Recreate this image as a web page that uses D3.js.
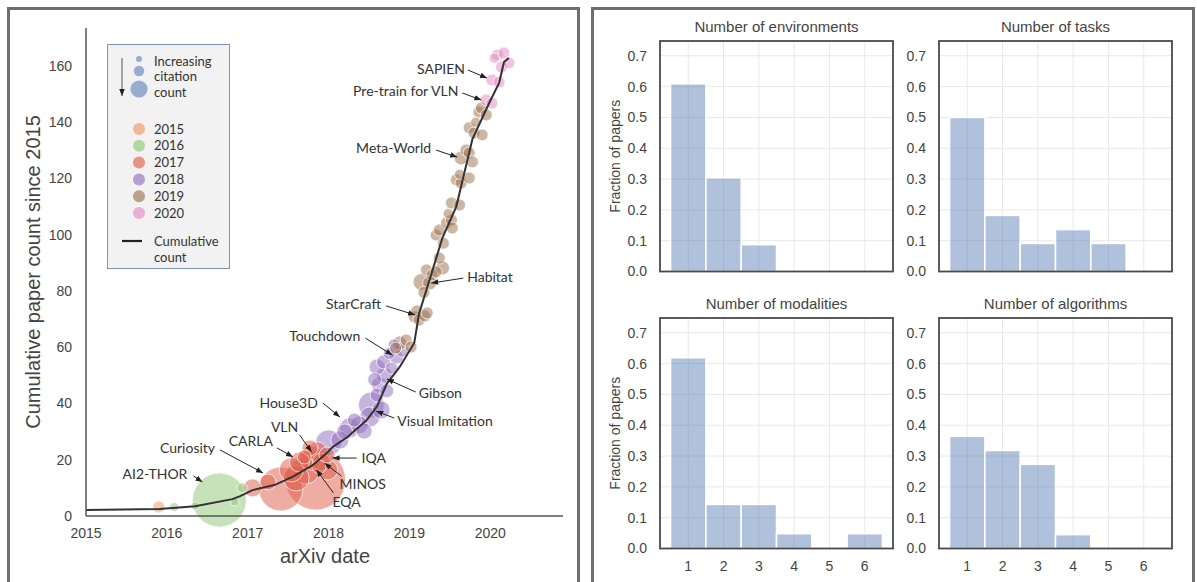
<!DOCTYPE html>
<html>
<head>
<meta charset="utf-8">
<script src="https://cdn.jsdelivr.net/npm/d3@7"></script>
<style>
    body { margin: 0; background: #fff; }
    svg { display: block; }
</style>
</head>
<body>
<script>
// cumulative count line, [date, count]
var cumulative = [
    [2015.0, 2.1], [2015.91, 2.5], [2016.35, 3.5], [2016.81, 6], [2016.9, 7],
    [2017.06, 9.2], [2017.33, 11], [2017.56, 14], [2017.8, 18], [2017.98, 22.4],
    [2018.05, 24.5], [2018.23, 28], [2018.47, 34], [2018.6, 39], [2018.72, 47],
    [2018.88, 53], [2019.06, 61.5], [2019.12, 72], [2019.25, 84], [2019.41, 99],
    [2019.58, 110], [2019.68, 122], [2019.78, 134], [2019.99, 147], [2020.11, 154],
    [2020.17, 161.4], [2020.23, 162.8]
];

// papers per year: [date, count, citations]
var papers2015 = [[2015.90, 3.2, 31]];
var papers2016 = [
    [2016.09, 3.2, 18], [2016.35, 3.6, 14], [2016.65, 5.7, 630], [2016.84, 5.0, 14], [2016.93, 10.0, 22]
];
var papers2017 = [
    [2017.06, 10.0, 70], [2017.25, 12.1, 55], [2017.41, 9.6, 420], [2017.54, 16.4, 125],
    [2017.60, 13.5, 146], [2017.64, 19.2, 87], [2017.72, 16.4, 170], [2017.77, 24.2, 55],
    [2017.79, 20.6, 125], [2017.84, 12.8, 780], [2017.86, 22.8, 87], [2017.91, 19.2, 70],
    [2017.98, 21.7, 55], [2017.99, 16.4, 87], [2017.70, 21.0, 42], [2017.88, 17.5, 42]
];
var papers2018 = [
    [2018.00, 26.0, 146], [2018.14, 27.0, 70], [2018.20, 29.9, 55], [2018.26, 31.3, 87],
    [2018.32, 34.1, 42], [2018.38, 32.4, 70], [2018.44, 30.2, 55], [2018.51, 35.2, 87],
    [2018.53, 39.5, 146], [2018.60, 43.0, 42], [2018.63, 46.6, 55], [2018.65, 37.7, 70],
    [2018.69, 50.1, 55], [2018.60, 53.0, 55], [2018.68, 54.8, 42], [2018.72, 44.5, 42],
    [2018.78, 52.6, 31], [2018.84, 56.5, 42], [2018.91, 59.0, 42], [2018.81, 60.8, 31],
    [2018.57, 48.5, 42], [2018.75, 57.8, 31]
];
var papers2019 = [
    [2018.83, 59.7, 31], [2018.88, 61.5, 42], [2018.96, 62.6, 31], [2019.02, 60.1, 31],
    [2019.06, 70.8, 31], [2019.09, 72.9, 31], [2019.12, 69.7, 31], [2019.19, 71.1, 31], [2019.22, 72.2, 31],
    [2019.15, 83.2, 62], [2019.21, 87.5, 31], [2019.25, 82.8, 42], [2019.28, 85.7, 31],
    [2019.33, 86.8, 31], [2019.37, 91.7, 31], [2019.41, 88.2, 42], [2019.18, 79.5, 31],
    [2019.33, 99.9, 31], [2019.37, 101.7, 31], [2019.46, 104.2, 31], [2019.52, 105.2, 31], [2019.53, 102.4, 31],
    [2019.42, 97.0, 31], [2019.48, 107.5, 22],
    [2019.52, 111.3, 31], [2019.62, 110.6, 31],
    [2019.58, 119.5, 31], [2019.64, 118.4, 31], [2019.74, 120.2, 31], [2019.62, 121.5, 22],
    [2019.64, 127.3, 42], [2019.70, 130.1, 31], [2019.74, 129.1, 31], [2019.78, 125.9, 31],
    [2019.74, 138.0, 31], [2019.80, 136.2, 31], [2019.90, 135.5, 31], [2019.82, 140.0, 22],
    [2019.86, 143.6, 31], [2019.89, 145.1, 31], [2019.95, 142.6, 31]
];
var papers2020 = [
    [2019.95, 147.9, 31], [2020.02, 146.8, 31], [2020.02, 155.0, 31], [2020.11, 154.3, 31],
    [2020.05, 162.8, 22], [2020.09, 163.9, 31], [2020.14, 159.6, 31], [2020.17, 164.6, 31], [2020.23, 161.1, 31]
];

var years = [2015, 2016, 2017, 2018, 2019, 2020];
var yearColors = ['#ec9a62', '#8fc777', '#e0604c', '#9370c0', '#9e7350', '#e48cc4'];
var yearTicks = [2015, 2016, 2017, 2018, 2019, 2020];
var countTicks = [0, 20, 40, 60, 80, 100, 120, 140, 160];
var legendCitations = [8, 24, 64];

// annotations: [label, date, count, text dx, text dy, anchor, arrow sx, arrow sy]
var annotations = [
    ['SAPIEN', 2019.96, 155.7, -22, -9, 'end', 3, 1],
    ['Pre-train for VLN', 2019.89, 147.9, -23, -9, 'end', 4, 2],
    ['Meta-World', 2019.59, 127.6, -26, -9, 'end', 5, 2],
    ['Habitat', 2019.27, 82.8, 36, -6, 'start', -4, 1],
    ['StarCraft', 2019.07, 71.5, -34, -11, 'end', 5, 2],
    ['Touchdown', 2018.79, 57.2, -32, -19, 'end', 5, 2],
    ['Gibson', 2018.72, 48.7, 32, 14, 'start', -3, -1],
    ['Visual Imitation', 2018.59, 37.3, 21, 10, 'start', -3, -3],
    ['House3D', 2018.14, 35.2, -22, -14, 'end', 5, 0],
    ['VLN', 2017.79, 22.8, -27, -25, 'middle', 15, 8],
    ['CARLA', 2017.56, 21.0, -20, -16, 'end', 4, 7],
    ['Curiosity', 2017.19, 15.3, -48, -25, 'end', 5, 2],
    ['AI2-THOR', 2016.44, 12.1, -15, -8, 'end', 6, 2],
    ['IQA', 2018.05, 20.6, 29, 0, 'start', -5, 0],
    ['MINOS', 2017.95, 18.8, 15, 21, 'start', 2, -8],
    ['EQA', 2017.85, 16.4, 16, 32, 'start', 1, -9]
];

// histograms
var counts = [1, 2, 3, 4, 5, 6];
var fracEnvironments = [0.609, 0.304, 0.087, 0, 0, 0];
var fracTasks = [0.5, 0.182, 0.091, 0.136, 0.091, 0];
var fracModalities = [0.619, 0.143, 0.143, 0.048, 0, 0.048];
var fracAlgorithms = [0.364, 0.318, 0.273, 0.045, 0, 0];
var fracTicks = [0, 0.1, 0.2, 0.3, 0.4, 0.5, 0.6, 0.7];

(function () {
    var width = 1197,
        height = 582,
        tickFont = '"Liberation Sans", Arial, sans-serif',
        noteFont = 'Lato, "Noto Sans", sans-serif',
        svg, x, y, size, g, defs;

    svg = d3.select('body').append('svg')
        .attr('width', width)
        .attr('height', height);

    // outer panel frames
    svg.append('rect').attr('x', 8.5).attr('y', 8.5).attr('width', 570).attr('height', 600)
        .attr('fill', 'none').attr('stroke', '#6e6e6e').attr('stroke-width', 3);
    svg.append('rect').attr('x', 592.5).attr('y', 8.5).attr('width', 601).attr('height', 600)
        .attr('fill', 'none').attr('stroke', '#6e6e6e').attr('stroke-width', 3);

    defs = svg.append('defs');
    defs.append('marker')
        .attr('id', 'arrow')
        .attr('viewBox', '0 0 10 10')
        .attr('refX', 10).attr('refY', 5)
        .attr('markerWidth', 7).attr('markerHeight', 7)
        .attr('markerUnits', 'userSpaceOnUse')
        .attr('orient', 'auto')
        .append('path').attr('d', 'M0,1L10,5L0,9Z').attr('fill', '#222');

    // ---- left: cumulative papers ----
    x = d3.scaleLinear().domain([2015, 2020.9]).range([86, 563]);
    y = d3.scaleLinear().domain([0, 173.5]).range([516, 28]);
    size = d3.scaleSqrt().domain([0, 1000]).range([0, 34]);

    g = svg.append('g');

    var all = [];
    [papers2015, papers2016, papers2017, papers2018, papers2019, papers2020].forEach(function (arr, i) {
        arr.forEach(function (p) {
            all.push({ date: p[0], count: p[1], cit: p[2], color: yearColors[i] });
        });
    });
    all.sort(function (a, b) { return b.cit - a.cit; });

    g.selectAll('circle.paper').data(all).enter().append('circle')
        .attr('class', 'paper')
        .attr('cx', function (d) { return x(d.date); })
        .attr('cy', function (d) { return y(d.count); })
        .attr('r', function (d) { return size(d.cit); })
        .attr('fill', function (d) { return d.color; })
        .attr('fill-opacity', 0.52)
        .attr('stroke', '#fff')
        .attr('stroke-opacity', 0.7)
        .attr('stroke-width', 1);

    g.append('path')
        .datum(cumulative)
        .attr('fill', 'none')
        .attr('stroke', '#333')
        .attr('stroke-width', 2)
        .attr('d', d3.line().x(function (d) { return x(d[0]); }).y(function (d) { return y(d[1]); }));

    // spines
    g.append('line').attr('x1', 86).attr('x2', 86).attr('y1', 28).attr('y2', 516)
        .attr('stroke', '#555').attr('stroke-width', 1.5);
    g.append('line').attr('x1', 86).attr('x2', 563).attr('y1', 516).attr('y2', 516)
        .attr('stroke', '#555').attr('stroke-width', 1.5);

    g.selectAll('text.ytick').data(countTicks).enter().append('text')
        .attr('class', 'ytick')
        .attr('x', 72).attr('y', function (d) { return y(d); })
        .attr('dy', '0.35em').attr('text-anchor', 'end')
        .attr('font-family', tickFont).attr('font-size', 14).attr('fill', '#444')
        .text(function (d) { return d; });

    g.selectAll('text.xtick').data(yearTicks).enter().append('text')
        .attr('class', 'xtick')
        .attr('x', function (d) { return x(d); }).attr('y', 533)
        .attr('dy', '0.35em').attr('text-anchor', 'middle')
        .attr('font-family', tickFont).attr('font-size', 14).attr('fill', '#444')
        .text(function (d) { return d; });

    g.append('text').attr('x', 325).attr('y', 556).attr('dy', '0.35em')
        .attr('text-anchor', 'middle').attr('font-family', tickFont).attr('font-size', 20)
        .attr('fill', '#444').text('arXiv date');
    g.append('text').attr('transform', 'translate(33,272) rotate(-90)').attr('dy', '0.35em')
        .attr('text-anchor', 'middle').attr('font-family', tickFont).attr('font-size', 20)
        .attr('fill', '#444').text('Cumulative paper count since 2015');

    // annotations
    annotations.forEach(function (a) {
        var px = x(a[1]), py = y(a[2]),
            tx = px + a[3], ty = py + a[4];
        g.append('line')
            .attr('x1', tx + a[6]).attr('y1', ty + a[7])
            .attr('x2', px).attr('y2', py)
            .attr('stroke', '#222').attr('stroke-width', 1)
            .attr('marker-end', 'url(#arrow)');
        g.append('text')
            .attr('x', tx).attr('y', ty).attr('dy', '0.35em')
            .attr('text-anchor', a[5])
            .attr('font-family', noteFont).attr('font-size', 14).attr('fill', '#333')
            .text(a[0]);
    });

    // legend
    var lg = svg.append('g');
    lg.append('rect').attr('x', 107.5).attr('y', 44.5).attr('width', 122).attr('height', 224)
        .attr('fill', '#f2f2f2').attr('stroke', '#7d93bf').attr('stroke-width', 1);
    lg.append('line').attr('x1', 122).attr('x2', 122).attr('y1', 58).attr('y2', 96)
        .attr('stroke', '#555').attr('stroke-width', 1).attr('marker-end', 'url(#arrow)');
    lg.selectAll('circle.size').data(legendCitations).enter().append('circle')
        .attr('class', 'size')
        .attr('cx', 139).attr('cy', function (d, i) { return [59, 71, 89][i]; })
        .attr('r', function (d) { return size(d); })
        .attr('fill', '#4c72b0').attr('fill-opacity', 0.55);
    ['Increasing', 'citation', 'count'].forEach(function (t, i) {
        lg.append('text').attr('x', 154).attr('y', 61 + i * 15.5).attr('dy', '0.35em')
            .attr('font-family', noteFont).attr('font-size', 13).attr('fill', '#333').text(t);
    });
    lg.selectAll('circle.year').data(years).enter().append('circle')
        .attr('class', 'year')
        .attr('cx', 139).attr('cy', function (d, i) { return 129 + i * 16.8; })
        .attr('r', 6)
        .attr('fill', function (d, i) { return yearColors[i]; }).attr('fill-opacity', 0.65);
    lg.selectAll('text.year').data(years).enter().append('text')
        .attr('class', 'year')
        .attr('x', 154).attr('y', function (d, i) { return 129 + i * 16.8; }).attr('dy', '0.35em')
        .attr('font-family', noteFont).attr('font-size', 13).attr('fill', '#333')
        .text(function (d) { return d; });
    lg.append('line').attr('x1', 122).attr('x2', 142).attr('y1', 241).attr('y2', 241)
        .attr('stroke', '#222').attr('stroke-width', 2.2);
    lg.append('text').attr('x', 154).attr('y', 241).attr('dy', '0.35em')
        .attr('font-family', noteFont).attr('font-size', 13).attr('fill', '#333').text('Cumulative');
    lg.append('text').attr('x', 154).attr('y', 257).attr('dy', '0.35em')
        .attr('font-family', noteFont).attr('font-size', 13).attr('fill', '#333').text('count');

    // ---- right: histograms ----
    function histogram(title, values, left, top, showY, showX) {
        var w = 233, h = 230.5,
            hx = d3.scaleLinear().domain([0.2, 6.8]).range([left, left + w]),
            hy = d3.scaleLinear().domain([0, 0.748]).range([top + h, top]),
            p = svg.append('g');

        p.selectAll('line.gx').data(counts).enter().append('line')
            .attr('x1', function (d) { return hx(d); }).attr('x2', function (d) { return hx(d); })
            .attr('y1', top).attr('y2', top + h)
            .attr('stroke', '#e8e8e8').attr('stroke-width', 1);
        p.selectAll('line.gy').data(fracTicks.slice(1)).enter().append('line')
            .attr('x1', left).attr('x2', left + w)
            .attr('y1', function (d) { return hy(d); }).attr('y2', function (d) { return hy(d); })
            .attr('stroke', '#e8e8e8').attr('stroke-width', 1);

        p.selectAll('rect.bar').data(values).enter().append('rect')
            .attr('x', function (d, i) { return hx(counts[i] - 0.5); })
            .attr('width', hx(1) - hx(0))
            .attr('y', function (d) { return hy(d); })
            .attr('height', function (d) { return hy(0) - hy(d); })
            .attr('fill', '#4c72b0').attr('fill-opacity', 0.44)
            .attr('stroke', '#fff').attr('stroke-width', 1.5)
            .style('display', function (d) { return d > 0 ? null : 'none'; });

        p.append('rect').attr('x', left).attr('y', top).attr('width', w).attr('height', h)
            .attr('fill', 'none').attr('stroke', '#4a4a4a').attr('stroke-width', 1.8);

        p.selectAll('text.ty').data(fracTicks).enter().append('text')
            .attr('x', left - 13).attr('y', function (d) { return hy(d); }).attr('dy', '0.35em')
            .attr('text-anchor', 'end').attr('font-family', tickFont).attr('font-size', 14)
            .attr('fill', '#444').text(function (d) { return d.toFixed(1); });

        if (showX) {
            p.selectAll('text.tx').data(counts).enter().append('text')
                .attr('x', function (d) { return hx(d); }).attr('y', top + h + 18).attr('dy', '0.35em')
                .attr('text-anchor', 'middle').attr('font-family', tickFont).attr('font-size', 14)
                .attr('fill', '#444').text(function (d) { return d; });
        }
        if (showY) {
            p.append('text').attr('transform', 'translate(615,' + (top + h / 2) + ') rotate(-90)')
                .attr('dy', '0.35em').attr('text-anchor', 'middle')
                .attr('font-family', tickFont).attr('font-size', 14).attr('fill', '#444')
                .text('Fraction of papers');
        }
        p.append('text').attr('x', left + w / 2).attr('y', top - 14).attr('dy', '0.35em')
            .attr('text-anchor', 'middle').attr('font-family', tickFont).attr('font-size', 15)
            .attr('fill', '#444').text(title);
    }

    histogram('Number of environments', fracEnvironments, 660, 41, true, false);
    histogram('Number of tasks', fracTasks, 939, 41, false, false);
    histogram('Number of modalities', fracModalities, 660, 318, true, true);
    histogram('Number of algorithms', fracAlgorithms, 939, 318, false, true);
}());
</script>
</body>
</html>
